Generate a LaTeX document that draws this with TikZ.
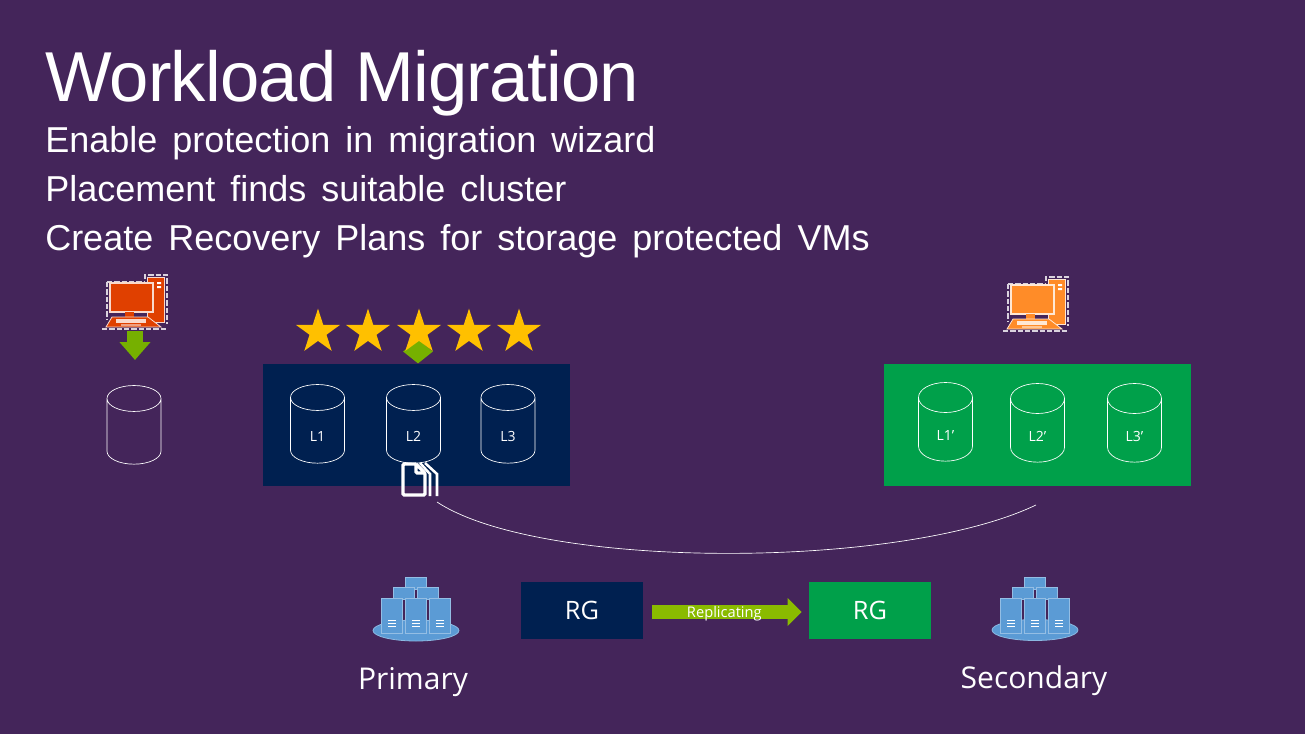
\documentclass[tikz,border=0pt]{standalone}
\usepackage{fontspec}
\setmainfont{Liberation Sans}
\newfontfamily\segoe{Open Sans}
\newfontface\bodyface{Liberation Sans}[WordSpace=1.5]
\usetikzlibrary{arrows.meta}
\usetikzlibrary{positioning}
\usetikzlibrary{shapes.geometric}
\definecolor{slidebg}{HTML}{44255A}
\definecolor{primblue}{HTML}{002050}
\definecolor{secgreen}{HTML}{00A04A}
\definecolor{arrowgreen}{HTML}{76B000}
\definecolor{replgreen}{HTML}{8ABB00}
\definecolor{stargold}{HTML}{FFC000}
\definecolor{serverblue}{HTML}{5B9BD5}
\definecolor{vmred}{HTML}{E04000}
\definecolor{vmorange}{HTML}{FF8C28}
\tikzset{
  pics/vmicon/.style={code={
    \draw[white!80!slidebg,dash pattern=on 4pt off 1.5pt,line width=.8pt] (0,8) -- (0,46) (0,8) -- (38,8) (38,5) -- (38,1) -- (60,1) -- (60,50)
      (-5,55) -- (60,55);
    \draw[white!80!#1,line width=.6pt,fill=#1] (40,3) rectangle (57,48);
    \fill[white] (50,8) rectangle (54,10) (50,12) rectangle (54,14);
    \draw[white!80!#1,line width=1.4pt,fill=#1] (3,9) rectangle (46,38);
    \fill[#1] (18,38) rectangle (27,43);
    \draw[white!80!#1,line width=.6pt,fill=#1] (5,43) -- (41,43) -- (54,53) -- (-1,53) -- cycle;
    \fill[white!80!#1] (9,45) rectangle (39,49);
    \fill[white!50!#1] (14,50) rectangle (34,52);
  }},
  pics/servericon/.style={code={
    \draw[serverblue!70!white,fill=serverblue,line width=.6pt] (0,0) ellipse (43 and 10.5);
    \foreach \bx/\by/\bw/\bh in {-11/-53/21/12,-23/-43/21/12,1/-43/21/12,-35/-32/21.5/35,-11/-32/21.5/35,13/-32/21.5/35}{
      \draw[serverblue!65!white,fill=serverblue] (\bx,\by) rectangle ++(\bw,\bh);
    }
    \foreach \bx in {-28,-4,20}{
      \draw[white,line width=.4pt] (\bx,-10) -- ++(8,0) (\bx,-7) -- ++(8,0) (\bx,-4) -- ++(8,0);
    }
  }},
  pics/fileicon/.style={code={
    \draw[white,line width=2.5pt,rounded corners=1pt] (15,1) -- (2,1) -- (2,32) -- (24,32) -- (24,10) -- (15,1) -- (15,10) -- (24,10);
    \draw[white,line width=1.9pt] (19,0) -- (29,11) -- (29,33) (24,0) -- (36,11) -- (36,33);
  }}
}
\begin{document}
\begin{tikzpicture}[x=0.75pt,y=-0.75pt,
  title node/.style={anchor=base west,inner sep=0,text=white,font=\fontsize{53}{60}\selectfont\addfontfeature{LetterSpace=-1.2}},
  body node/.style={anchor=base west,inner sep=0,text=white,font=\bodyface\fontsize{27}{32}\selectfont},
  lun box/.style={rectangle,inner sep=0,minimum width=230.25pt,minimum height=91.5pt},
  lun node/.style={cylinder,shape border rotate=90,aspect=1.7,draw=white,line width=.5pt,inner sep=0,
    minimum width=40.5pt,minimum height=59pt,text=white,text height=16pt,text depth=0pt,font=\segoe\fontsize{10.5}{12}\selectfont},
  gold star/.style={star,star points=5,star point ratio=2.618,fill=stargold,inner sep=0,minimum size=35pt},
  rg node/.style={rectangle,inner sep=0,minimum width=91.5pt,minimum height=42.75pt,text=white,font=\segoe\fontsize{19}{22}\selectfont},
  site node/.style={inner sep=0,text=white,font=\segoe\fontsize{22.5}{26}\selectfont}]

  \fill[slidebg] (0,0) rectangle (1305,734);

  \node[title node] (Title) at (45,102) {Workload Migration};
  \node[body node] (Enable) at (45,153) {Enable protection in migration wizard};
  \node[body node] (Place) at (45,202) {Placement finds suitable cluster};
  \node[body node] (Create) at (45,251) {Create Recovery Plans for storage protected VMs};

  \node[lun box,fill=primblue] (BlueBox) at (416.5,425) {};
  \node[lun box,fill=secgreen] (GreenBox) at (1037.5,425) {};

  \node[lun node] (Disk) at (134,431.5) {\hphantom{L1}};
  \node[lun node] (L1) at (317.5,430.5) {L1};
  \node[lun node] (L2) at (413.5,430.5) {L2};
  \node[lun node] (L3) at (508,430.5) {L3};
  \node[lun node] (L1s) at (945.5,429.5) {L1’};
  \node[lun node] (L2s) at (1037.5,430.5) {L2’};
  \node[lun node] (L3s) at (1134.5,430.5) {L3’};

  \pic at (107,274) {vmicon=vmred};
  \pic at (1008,276) {vmicon=vmorange};

  \coordinate (VmFoot) at (135,331);
  \coordinate (DiskHead) at (135,360);
  \draw[arrowgreen,line width=12pt,-{Triangle[length=13.5pt,width=22.5pt]}] (VmFoot) -- (DiskHead);

  \node[diamond,fill=arrowgreen,inner sep=0,minimum width=22.5pt,minimum height=18pt] (Move) at (418,351.5) {};
  \foreach \sx/\sname in {318/S1,368/S2,419/S3,469/S4,519/S5}
    \node[gold star] (\sname) at (\sx,332) {};

  \pic at (401,463) {fileicon};
  \coordinate (CurveIn) at (437,502);
  \coordinate (CurveOut) at (1036,505);
  \draw[white,line width=.5pt] (CurveIn) .. controls (540,570) and (900,570) .. (CurveOut);

  \pic at (416,630.5) {servericon};
  \pic at (1035,630) {servericon};

  \node[rg node,fill=primblue] (RGP) at (582,610.5) {\raisebox{-1pt}{RG}};
  \node[rg node,fill=secgreen] (RGS) at (870,610.5) {\raisebox{-1pt}{RG}};
  \draw[replgreen,line width=10.5pt,shorten <=6.75pt,shorten >=5.25pt,-{Triangle[length=10.5pt,width=20.25pt]}] ([yshift=-1.1pt]RGP.east) -- ([yshift=-1.1pt]RGS.west)
    node[pos=.49,yshift=-1.2pt,text=white,inner sep=0,font=\segoe\fontsize{11}{13}\selectfont] (Repl) {Replicating};

  \node[site node] (Primary) at (413,682) {Primary};
  \node[site node] (Secondary) at (1034,681) {Secondary};

\end{tikzpicture}
\end{document}
